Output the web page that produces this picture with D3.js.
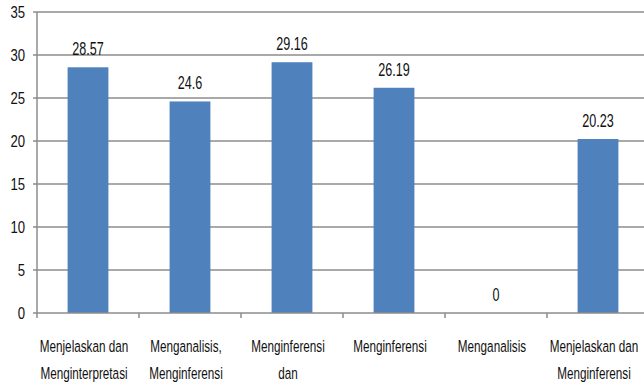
<!DOCTYPE html>
<html>
<head>
<meta charset="utf-8">
<script src="https://cdn.jsdelivr.net/npm/d3@7"></script>
<style>
  body { margin: 0; background: #fff; }
  svg text { font-family: "Liberation Sans", Arial, sans-serif; fill: #111; }
</style>
</head>
<body>
<svg></svg>
<script>
// chart size
var width = 644;
var height = 385;

// data
var categories = ["c1", "c2", "c3", "c4", "c5", "c6"];
var labelLines = [
    ["Menjelaskan dan", "Menginterpretasi"],
    ["Menganalisis,", "Menginferensi"],
    ["Menginferensi", "dan"],
    ["Menginferensi"],
    ["Menganalisis"],
    ["Menjelaskan dan", "Menginferensi"]
];
var values = [28.57, 24.6, 29.16, 26.19, 0, 20.23];
var yTicks = [0, 5, 10, 15, 20, 25, 30, 35];

var left = 37;
var step = 102;

var svg = d3.select("svg")
    .attr("width", width)
    .attr("height", height);

var x = d3.scaleBand()
    .domain(categories)
    .range([left, left + step * 6])
    .paddingInner(0.6)
    .paddingOuter(0.3);

var y = d3.scaleLinear()
    .domain([0, 35])
    .range([313, 12]);

// narrow text helper (chart font is condensed)
function narrow(sel, sx) {
    return sel.attr("transform", (d) => "scale(" + sx + ",1)");
}

// gridlines
svg.append("g")
    .selectAll("line")
    .data(yTicks.filter((d) => d > 0))
    .enter()
    .append("line")
    .attr("x1", left - 4)
    .attr("x2", width)
    .attr("y1", (d) => y(d))
    .attr("y2", (d) => y(d))
    .attr("stroke", "#8c8c8c")
    .attr("stroke-width", 1.5);

// y tick labels
svg.append("g")
    .selectAll("text")
    .data(yTicks)
    .enter()
    .append("text")
    .attr("transform", (d) => "translate(25," + y(d) + ") scale(0.82,1)")
    .attr("dy", "0.4em")
    .attr("text-anchor", "end")
    .style("font-size", "16px")
    .text((d) => d);

// bars
svg.append("g")
    .selectAll("rect")
    .data(values)
    .enter()
    .append("rect")
    .attr("x", (d, i) => x(categories[i]))
    .attr("width", x.bandwidth())
    .attr("y", (d) => y(d))
    .attr("height", (d) => y(0) - y(d))
    .attr("fill", "#4f81bd");

// value labels
svg.append("g")
    .selectAll("text")
    .data(values)
    .enter()
    .append("text")
    .attr("transform", (d, i) =>
        "translate(" + (x(categories[i]) + x.bandwidth() / 2) + "," + (y(d) - 12) + ") scale(0.7,1)")
    .attr("text-anchor", "middle")
    .style("font-size", "18px")
    .text((d) => d);

// axes lines
svg.append("line")
    .attr("x1", left).attr("x2", left)
    .attr("y1", y(35)).attr("y2", y(0))
    .attr("stroke", "#8c8c8c").attr("stroke-width", 1.5);

svg.append("line")
    .attr("x1", left - 4).attr("x2", width)
    .attr("y1", y(0)).attr("y2", y(0))
    .attr("stroke", "#8c8c8c").attr("stroke-width", 1.5);

// x ticks at band boundaries
svg.append("g")
    .selectAll("line")
    .data(d3.range(categories.length + 1))
    .enter()
    .append("line")
    .attr("x1", (i) => left + i * step)
    .attr("x2", (i) => left + i * step)
    .attr("y1", y(0))
    .attr("y2", y(0) + 5)
    .attr("stroke", "#8c8c8c")
    .attr("stroke-width", 1.5);

// category labels
svg.append("g")
    .selectAll("g")
    .data(labelLines)
    .enter()
    .append("g")
    .attr("transform", (d, i) => "translate(" + (x(categories[i]) + x.bandwidth() / 2 - 4) + ",0) scale(0.71,1)")
    .each(function (lines) {
        d3.select(this)
            .selectAll("text")
            .data(lines)
            .enter()
            .append("text")
            .attr("x", 0)
            .attr("y", (d, j) => 352 + j * 27)
            .attr("text-anchor", "middle")
            .style("font-size", "16.5px")
            .text((d) => d);
    });
</script>
</body>
</html>
